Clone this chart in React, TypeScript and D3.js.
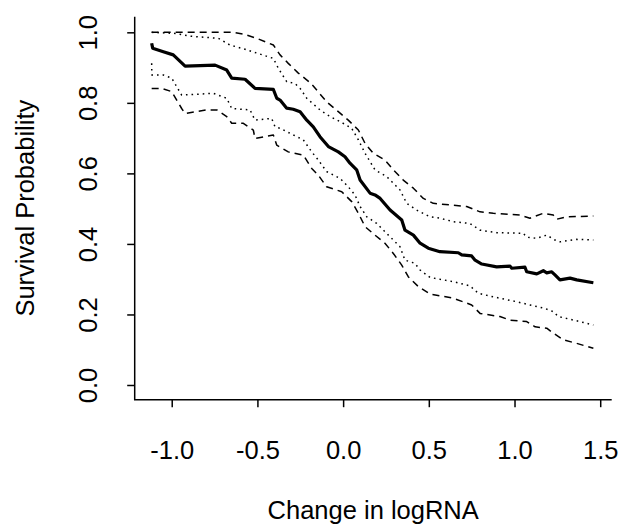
import { useEffect, useRef } from "react";
import * as d3 from "d3";

type Pt = [number, number];

const xTicks = [-1.0, -0.5, 0.0, 0.5, 1.0, 1.5];
const yTicks = [0.0, 0.2, 0.4, 0.6, 0.8, 1.0];

// survival estimate (solid)
const estimate: Pt[] = [
  [-1.117, 0.969], [-1.111, 0.955], [-1.049, 0.945], [-0.991, 0.936], [-0.922, 0.904],
  [-0.747, 0.907], [-0.679, 0.893], [-0.65, 0.87], [-0.572, 0.867], [-0.514, 0.841],
  [-0.407, 0.838], [-0.387, 0.813], [-0.368, 0.808], [-0.329, 0.785], [-0.291, 0.782],
  [-0.251, 0.775], [-0.212, 0.751], [-0.174, 0.732], [-0.135, 0.704], [-0.086, 0.676],
  [-0.028, 0.661], [0.011, 0.647], [0.04, 0.629], [0.079, 0.61], [0.099, 0.581],
  [0.157, 0.544], [0.186, 0.539], [0.216, 0.529], [0.274, 0.496], [0.342, 0.468],
  [0.361, 0.439], [0.41, 0.425], [0.449, 0.402], [0.497, 0.388], [0.565, 0.378],
  [0.672, 0.375], [0.692, 0.369], [0.75, 0.366], [0.77, 0.354], [0.809, 0.343],
  [0.896, 0.335], [0.974, 0.337], [0.984, 0.331], [1.061, 0.334], [1.071, 0.321],
  [1.13, 0.315], [1.168, 0.324], [1.188, 0.318], [1.217, 0.321], [1.236, 0.312],
  [1.265, 0.298], [1.324, 0.303], [1.363, 0.298], [1.46, 0.29],
];

// outer band, upper (dashed)
const upperDashed: Pt[] = [
  [-1.117, 1.0], [-0.641, 1.0], [-0.582, 0.995], [-0.504, 0.983], [-0.407, 0.964],
  [-0.368, 0.936], [-0.32, 0.912], [-0.263, 0.885], [-0.187, 0.855], [-0.096, 0.803],
  [-0.028, 0.775], [0.03, 0.751], [0.089, 0.723], [0.128, 0.685], [0.176, 0.657],
  [0.244, 0.638], [0.293, 0.61], [0.351, 0.581], [0.41, 0.558], [0.468, 0.529],
  [0.526, 0.515], [0.643, 0.51], [0.721, 0.506], [0.799, 0.491], [0.876, 0.487],
  [1.032, 0.482], [1.09, 0.473], [1.168, 0.487], [1.226, 0.482], [1.246, 0.47],
  [1.305, 0.477], [1.46, 0.479],
];

// inner band, upper (dotted)
const upperDotted: Pt[] = [
  [-1.117, 1.0], [-0.981, 0.997], [-0.893, 0.989], [-0.728, 0.983], [-0.66, 0.964],
  [-0.572, 0.952], [-0.407, 0.926], [-0.378, 0.898], [-0.329, 0.86], [-0.281, 0.855],
  [-0.251, 0.841], [-0.212, 0.813], [-0.135, 0.78], [-0.076, 0.761], [-0.018, 0.747],
  [0.05, 0.728], [0.089, 0.695], [0.128, 0.657], [0.186, 0.61], [0.254, 0.591],
  [0.332, 0.553], [0.371, 0.515], [0.429, 0.496], [0.507, 0.477], [0.565, 0.473],
  [0.643, 0.463], [0.74, 0.458], [0.799, 0.439], [0.896, 0.432], [1.051, 0.43],
  [1.071, 0.419], [1.13, 0.416], [1.188, 0.425], [1.236, 0.411], [1.265, 0.406],
  [1.363, 0.413], [1.46, 0.411],
];

// inner band, lower (dotted)
const lowerDotted: Pt[] = [
  [-1.117, 0.912], [-1.116, 0.879], [-1.049, 0.879], [-1.0, 0.87], [-0.942, 0.822],
  [-0.757, 0.827], [-0.679, 0.813], [-0.65, 0.784], [-0.543, 0.78], [-0.514, 0.751],
  [-0.417, 0.756], [-0.397, 0.732], [-0.368, 0.728], [-0.291, 0.709], [-0.232, 0.695],
  [-0.183, 0.661], [-0.145, 0.638], [-0.096, 0.605], [-0.018, 0.586], [0.03, 0.562],
  [0.069, 0.539], [0.099, 0.506], [0.138, 0.477], [0.196, 0.458], [0.264, 0.425],
  [0.332, 0.392], [0.361, 0.354], [0.419, 0.345], [0.449, 0.326], [0.507, 0.305],
  [0.643, 0.293], [0.74, 0.281], [0.789, 0.26], [0.876, 0.25], [1.013, 0.236],
  [1.09, 0.227], [1.178, 0.217], [1.226, 0.208], [1.256, 0.194], [1.363, 0.182],
  [1.46, 0.17],
];

// outer band, lower (dashed)
const lowerDashed: Pt[] = [
  [-1.117, 0.841], [-1.058, 0.841], [-1.0, 0.832], [-0.942, 0.784], [-0.922, 0.77],
  [-0.796, 0.78], [-0.737, 0.78], [-0.679, 0.761], [-0.65, 0.742], [-0.582, 0.742],
  [-0.524, 0.723], [-0.514, 0.699], [-0.407, 0.709], [-0.387, 0.68], [-0.32, 0.661],
  [-0.232, 0.652], [-0.183, 0.614], [-0.145, 0.595], [-0.096, 0.562], [-0.008, 0.548],
  [0.05, 0.52], [0.089, 0.487], [0.128, 0.449], [0.186, 0.425], [0.244, 0.402],
  [0.293, 0.373], [0.342, 0.34], [0.38, 0.307], [0.439, 0.279], [0.507, 0.258],
  [0.643, 0.246], [0.75, 0.227], [0.799, 0.203], [0.915, 0.194], [0.974, 0.184],
  [1.071, 0.18], [1.12, 0.165], [1.188, 0.161], [1.226, 0.147], [1.285, 0.128],
  [1.363, 0.118], [1.46, 0.104],
];

export default function App() {
  const svgRef = useRef<SVGSVGElement | null>(null);

  useEffect(() => {
    const W = 621;
    const H = 529;
    const left = 134.7, right = 611.7, top = 16.7, bottom = 399.7;
    const font = "'Liberation Sans', Arial, Helvetica, sans-serif";
    const fs = 25.5;
    const fmt = (d: d3.NumberValue) => (+d).toFixed(1); // plain hyphen minus, like R

    const svg = d3.select(svgRef.current);
    svg.selectAll("*").remove();
    svg.attr("width", W).attr("height", H).attr("viewBox", `0 0 ${W} ${H}`);

    svg.append("rect").attr("width", W).attr("height", H).attr("fill", "#fff");

    const x = d3.scaleLinear().domain([-1.216, 1.567]).range([left, right]);
    const y = d3.scaleLinear().domain([-0.0417, 1.0443]).range([bottom, top]);

    const line = d3.line<Pt>().x(d => x(d[0])).y(d => y(d[1]));

    const series: { data: Pt[]; w: number; dash: string | null }[] = [
      { data: upperDashed, w: 1.5, dash: "7,5" },
      { data: lowerDashed, w: 1.5, dash: "7,5" },
      { data: upperDotted, w: 1.5, dash: "1.6,4" },
      { data: lowerDotted, w: 1.5, dash: "1.6,4" },
      { data: estimate, w: 3.2, dash: null },
    ];
    series.forEach(s => {
      const p = svg.append("path")
        .datum(s.data)
        .attr("fill", "none")
        .attr("stroke", "#000")
        .attr("stroke-width", s.w)
        .attr("stroke-linejoin", "round")
        .attr("d", line);
      if (s.dash) p.attr("stroke-dasharray", s.dash);
    });

    // L-shaped box
    svg.append("path")
      .attr("d", `M${left},${top}V${bottom}H${right}`)
      .attr("fill", "none")
      .attr("stroke", "#000")
      .attr("stroke-width", 1.5);

    // x axis
    const gx = svg.append("g").attr("transform", `translate(0,${bottom})`)
      .call(d3.axisBottom(x).tickValues(xTicks).tickSize(7.5).tickPadding(0).tickFormat(fmt))
      .call(ax => ax.select(".domain").remove());
    gx.selectAll("line").attr("stroke", "#000").attr("stroke-width", 1.5);
    gx.selectAll("text")
      .attr("y", 59)
      .attr("dy", null)
      .attr("fill", "#000")
      .attr("font-size", fs)
      .attr("font-family", font);

    // y axis with labels parallel to axis
    const gy = svg.append("g").attr("transform", `translate(${left},0)`)
      .call(d3.axisLeft(y).tickValues(yTicks).tickSize(7.5).tickFormat(fmt))
      .call(ax => ax.select(".domain").remove());
    gy.selectAll("line").attr("stroke", "#000").attr("stroke-width", 1.5);
    gy.selectAll("text")
      .attr("x", null)
      .attr("dy", null)
      .attr("transform", "translate(-38,0) rotate(-90)")
      .attr("text-anchor", "middle")
      .attr("fill", "#000")
      .attr("font-size", fs)
      .attr("font-family", font);

    svg.append("text")
      .attr("x", (left + right) / 2)
      .attr("y", 519)
      .attr("text-anchor", "middle")
      .attr("font-size", fs)
      .attr("font-family", font)
      .text("Change in logRNA");

    svg.append("text")
      .attr("transform", `translate(33.5,${(top + bottom) / 2}) rotate(-90)`)
      .attr("text-anchor", "middle")
      .attr("font-size", fs)
      .attr("font-family", font)
      .text("Survival Probability");
  }, []);

  return (
    <div style={{ position: "fixed", left: 0, top: 0, width: 621, height: 529 }}>
      <svg ref={svgRef} style={{ display: "block" }} />
    </div>
  );
}
